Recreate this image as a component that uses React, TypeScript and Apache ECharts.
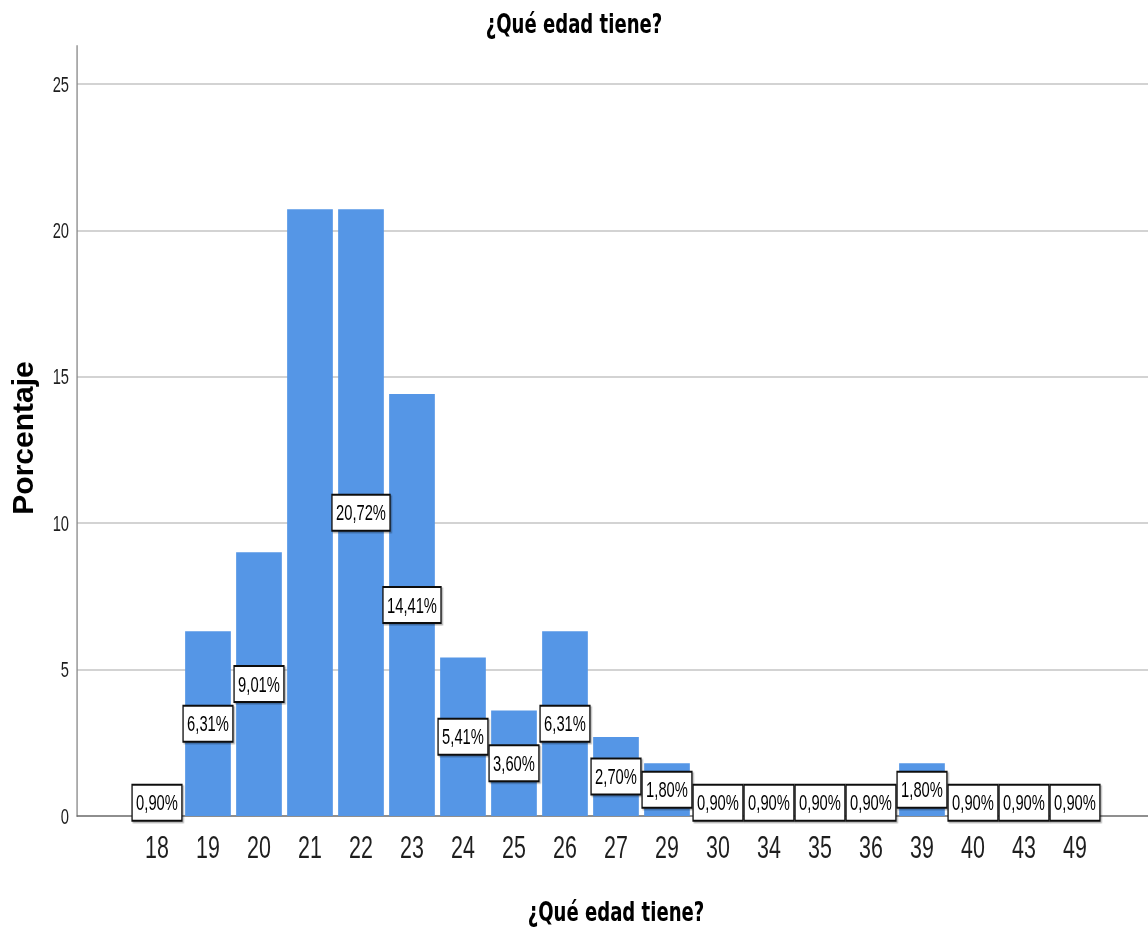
import React, { useEffect, useRef } from "react";
import * as echarts from "echarts";

// ---- data ----
const chartTitle = "¿Qué edad tiene?";
const xAxisTitle = "¿Qué edad tiene?";
const yAxisTitle = "Porcentaje";
const categories = ["18", "19", "20", "21", "22", "23", "24", "25", "26", "27", "29", "30", "34", "35", "36", "39", "40", "43", "49"];
const percentages = [0.9, 6.31, 9.01, 20.72, 20.72, 14.41, 5.41, 3.6, 6.31, 2.7, 1.8, 0.9, 0.9, 0.9, 0.9, 1.8, 0.9, 0.9, 0.9];
const hiddenLabelCategories = ["21"];
const yMin = 0;
const yMax = 26.3;
const yInterval = 5;

// ---- layout (internal coordinates, page is squeezed horizontally) ----
const K = 0.67017;
const PAGE_W = 1148;
const PAGE_H = 930;
const INNER_W = Math.round(PAGE_W / K);

const BAR_COLOR = "#5596e6";
const FONT = "Liberation Sans, Arial, sans-serif";

function fmt(v: number): string {
  return v.toFixed(2).replace(".", ",") + "%";
}

export default function App() {
  const ref = useRef<HTMLDivElement>(null);
  useEffect(() => {
    if (!ref.current) return;
    const chart = echarts.init(ref.current, undefined, { renderer: "svg", width: INNER_W, height: PAGE_H });
    const barData = percentages.map((v, i) => ({
      value: v,
      label: { show: hiddenLabelCategories.indexOf(categories[i]) < 0 },
    }));
    const option: any = {
      animation: false,
      backgroundColor: "#ffffff",
      title: {
        text: chartTitle,
        left: "center",
        top: 10,
        padding: 0,
        textStyle: { fontFamily: "DejaVu Sans", fontWeight: "bold", fontSize: 27, color: "#000" },
      },
      grid: [
        { left: 115, right: 0, top: 46, bottom: 114, outerBoundsMode: "none", containLabel: false },
        { left: 196.2, right: 70.9, top: 46, bottom: 114, outerBoundsMode: "none", containLabel: false },
      ],
      xAxis: [
        {
          gridIndex: 0,
          type: "value",
          min: 0,
          max: 1,
          axisLine: { show: true, lineStyle: { color: "#6a6a6a", width: 1.5 } },
          axisTick: { show: false },
          axisLabel: { show: false },
          splitLine: { show: false },
        },
        {
          gridIndex: 1,
          type: "category",
          data: categories,
          axisLine: { show: false },
          axisTick: { show: false },
          axisLabel: { fontFamily: FONT, fontSize: 32, color: "#1e1e1e", margin: 15, interval: 0 },
          name: xAxisTitle,
          nameLocation: "middle",
          nameGap: 82,
          nameTextStyle: { fontFamily: "DejaVu Sans", fontWeight: "bold", fontSize: 27, color: "#000" },
        },
      ],
      yAxis: [
        {
          gridIndex: 0,
          type: "value",
          min: yMin,
          max: yMax,
          interval: yInterval,
          axisLine: { show: true, lineStyle: { color: "#8a8a8a", width: 2 } },
          axisTick: { show: false },
          axisLabel: {
            fontFamily: FONT,
            fontSize: 22,
            color: "#1e1e1e",
            margin: 12,
            showMaxLabel: false,
            formatter: (v: number) => (v % yInterval === 0 ? String(v) : ""),
          },
          splitLine: { show: true, showMaxLine: false, showMinLine: false, lineStyle: { color: "#d3d3d3", width: 2 } },
        },
        {
          gridIndex: 1,
          type: "value",
          min: yMin,
          max: yMax,
          show: false,
          splitLine: { show: false },
        },
      ],
      graphic: [
        {
          type: "text",
          x: 33.7,
          y: 438,
          rotation: Math.PI / 2,
          scaleY: 1 / K,
          style: {
            text: yAxisTitle,
            fontFamily: FONT,
            fontWeight: "bold",
            fontSize: 30,
            fill: "#000",
            align: "center",
            verticalAlign: "middle",
          },
        },
      ],
      series: [
        {
          type: "bar",
          xAxisIndex: 1,
          yAxisIndex: 1,
          data: barData,
          barWidth: 68.2,
          itemStyle: { color: BAR_COLOR },
          label: {
            show: true,
            position: "inside",
            formatter: (p: any) => fmt(p.value),
            fontFamily: FONT,
            fontSize: 22,
            lineHeight: 22,
            color: "#000",
            backgroundColor: "#ffffff",
            borderColor: "#111111",
            borderWidth: 2,
            padding: [6, 5],
            shadowColor: "rgba(0,0,0,0.3)",
            shadowOffsetX: 2,
            shadowOffsetY: 1.5,
            shadowBlur: 1,
          },
        },
      ],
    };
    chart.setOption(option);
    return () => chart.dispose();
  }, []);
  return (
    <div
      style={{
        position: "absolute",
        left: 0,
        top: 0,
        width: PAGE_W,
        height: PAGE_H,
        overflow: "hidden",
        background: "#fff",
      }}
    >
      <div
        ref={ref}
        style={{ width: INNER_W, height: PAGE_H, transform: `scaleX(${K})`, transformOrigin: "0 0" }}
      />
    </div>
  );
}
